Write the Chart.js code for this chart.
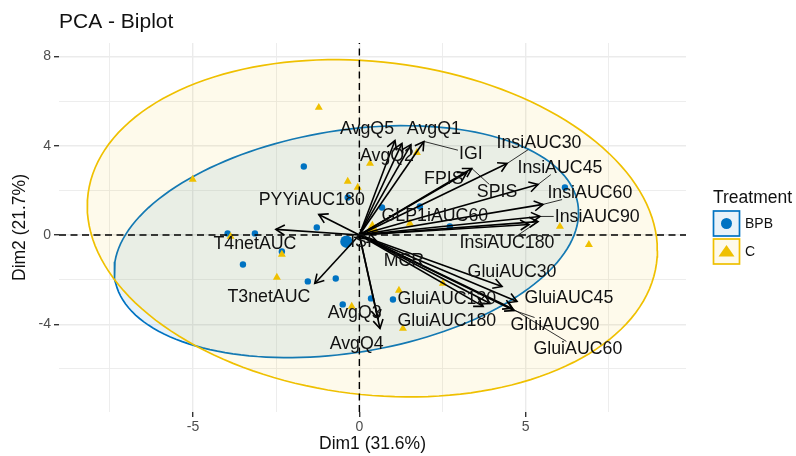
<!DOCTYPE html>
<html>
<head>
<meta charset="utf-8">
<script src="https://cdn.jsdelivr.net/npm/chart.js@4.4.0/dist/chart.umd.min.js"></script>
<style>
  html, body { margin: 0; padding: 0; background: #ffffff; }
  #wrap { width: 796px; height: 456px; }
</style>
</head>
<body>
<div id="wrap"><canvas id="biplot" width="796" height="456"></canvas></div>
<script>
// ---- individuals (PC scores) ----
const groups = ['BPB', 'C'];
const bpbX = [-1.67, -0.35, 0.68, -1.28, -3.96, -3.14, -2.33, -3.50, -1.55, -0.71, -0.50, 0.35, 1.01, 1.82, 2.72, 6.18];
const bpbY = [3.07, 1.68, 1.23, 0.34, 0.07, 0.07, -0.74, -1.32, -2.08, -1.95, -3.11, -2.84, -2.89, 1.28, 0.38, 2.13];
const cX = [-1.22, -5.01, 0.32, -0.35, -0.05, -3.87, -2.33, -2.48, -0.23, 1.19, 1.52, 6.03, 6.90, 2.51, 1.31, 1.73];
const cY = [5.71, 2.49, 3.20, 2.40, 2.13, -0.07, -0.87, -1.90, -3.20, -2.48, 0.52, 0.38, -0.43, -2.17, -4.19, 3.69];
const groupMeanX = [-0.39, 0.39];
const groupMeanY = [-0.30, 0.30];

// ---- concentration ellipses: x = cx + ax*cos t, y = cy + ay*cos t + by*sin t ----
const ellipseAx = [6.98, 8.57];
const ellipseAy = [1.30, -0.99];
const ellipseBy = [5.03, 7.49];

// ---- variables (loadings) ----
const varNames = ['AvgQ5', 'AvgQ2', 'AvgQ1', 'IGI', 'FPIS', 'SPIS', 'InsiAUC30', 'InsiAUC45', 'InsiAUC60',
  'InsiAUC90', 'InsiAUC180', 'GLP1iAUC60', 'PYYiAUC180', 'T4netAUC', 'T3netAUC', 'AvgQ3', 'AvgQ4', 'MCR', 'ISI',
  'GluiAUC30', 'GluiAUC45', 'GluiAUC90', 'GluiAUC60', 'GluiAUC120', 'GluiAUC180'];
const varX = [1.07, 1.28, 1.55, 1.94, 3.23, 3.38, 4.44, 5.37, 5.52, 5.43, 5.37, 5.10, -1.22, -2.51, -1.34, 0.56, 0.62, 0.50, 0.14,
  4.29, 4.74, 4.65, 4.59, 3.72, 3.93];
const varY = [4.23, 4.10, 4.05, 4.19, 2.80, 2.98, 3.20, 2.26, 1.37, 0.83, 0.60, 0.47, 0.92, 0.25, -2.17, -3.74, -4.19, -0.25, -0.16,
  -2.31, -2.98, -3.38, -3.29, -3.20, -3.07];
// repelled label anchors
const labelX = [0.23, 0.83, 2.24, 3.35, 2.54, 4.14, 5.40, 6.03, 6.93, 7.15, 4.44, 2.27, -1.43, -3.14, -2.72, -0.14, -0.08, 1.34, 0.05,
  4.59, 6.30, 5.88, 6.57, 2.63, 2.63];
const labelY = [4.77, 3.60, 4.77, 3.65, 2.53, 1.95, 4.14, 3.02, 1.90, 0.83, -0.34, 0.87, 1.59, -0.38, -2.75, -3.47, -4.86, -1.14, -0.29,
  -1.63, -2.80, -4.01, -5.08, -2.84, -3.83];
const leaderNames = ['IGI', 'SPIS', 'InsiAUC30', 'InsiAUC45', 'InsiAUC60', 'InsiAUC90', 'InsiAUC180', 'GluiAUC90', 'GluiAUC60'];

// ---- axes ----
const xRange = [-9.03, 9.82];
const yRange = [-7.93, 8.60];
const xTicks = [-7.5, -5, -2.5, 0, 2.5, 5, 7.5];
const xTickLabels = ['', '-5', '', '0', '', '5', ''];
const yTicks = [-6, -4, -2, 0, 2, 4, 6, 8];
const yTickLabels = ['', '-4', '', '0', '', '4', '', '8'];

const BLUE = '#0073C2';
const GOLD = '#EFC000';
const FONT = "'Liberation Sans', Arial, Helvetica, sans-serif";
Chart.defaults.font.family = FONT;

function ellipsePoints(g) {
  const pts = [];
  const n = 160;
  for (let i = 0; i <= n; i++) {
    const t = (i / n) * Math.PI * 2;
    pts.push({
      x: groupMeanX[g] + ellipseAx[g] * Math.cos(t),
      y: groupMeanY[g] + ellipseAy[g] * Math.cos(t) + ellipseBy[g] * Math.sin(t)
    });
  }
  return pts;
}

const datasets = [];
// ellipses (BPB first, C over it)
[0, 1].forEach(g => {
  const col = g === 0 ? BLUE : GOLD;
  datasets.push({
    data: ellipsePoints(g),
    showLine: true,
    fill: 'shape',
    backgroundColor: g === 0 ? 'rgba(0,115,194,0.09)' : 'rgba(239,192,0,0.08)',
    borderColor: col,
    borderWidth: 1.7,
    pointRadius: 0,
    tension: 0,
    order: 30 - g
  });
});
// individuals
datasets.push({
  data: bpbX.map((x, i) => ({ x, y: bpbY[i] })),
  pointStyle: 'circle', pointRadius: 3.2, backgroundColor: BLUE, borderWidth: 0, order: 20
});
datasets.push({
  data: cX.map((x, i) => ({ x, y: cY[i] })),
  pointStyle: 'triangle', pointRadius: 4.6, backgroundColor: GOLD, borderWidth: 0, order: 19
});
// group means
datasets.push({
  data: [{ x: groupMeanX[0], y: groupMeanY[0] }],
  pointStyle: 'circle', pointRadius: 6.2, backgroundColor: BLUE, borderWidth: 0, order: 18
});
datasets.push({
  data: [{ x: groupMeanX[1], y: groupMeanY[1] }],
  pointStyle: 'triangle', pointRadius: 7.5, backgroundColor: GOLD, borderWidth: 0, order: 18
});
// dashed reference lines through the origin
const dashStyle = { showLine: true, borderColor: '#000', borderWidth: 1.4, borderDash: [7, 4.5], pointRadius: 0, order: 10 };
datasets.push(Object.assign({ data: [{ x: xRange[0], y: 0 }, { x: xRange[1], y: 0 }] }, dashStyle));
datasets.push(Object.assign({ data: [{ x: 0, y: yRange[0] }, { x: 0, y: yRange[1] }] }, dashStyle));
// variable arrows
varNames.forEach((name, i) => {
  datasets.push({
    label: name,
    data: [{ x: 0, y: 0 }, { x: varX[i], y: varY[i] }],
    showLine: true, borderColor: '#000', borderWidth: 1.6, pointRadius: 0, order: 1
  });
});

const biplotDecor = {
  id: 'biplotDecor',
  afterDatasetsDraw(chart) {
    const ctx = chart.ctx;
    const xs = chart.scales.x, ys = chart.scales.y;
    const area = chart.chartArea;
    ctx.save();
    ctx.beginPath();
    ctx.rect(area.left, area.top, area.right - area.left, area.bottom - area.top);
    ctx.clip();
    // arrow heads
    ctx.strokeStyle = '#000';
    ctx.lineWidth = 1.6;
    ctx.lineCap = 'butt';
    const ox = xs.getPixelForValue(0), oy = ys.getPixelForValue(0);
    varNames.forEach((name, i) => {
      const px = xs.getPixelForValue(varX[i]), py = ys.getPixelForValue(varY[i]);
      const a = Math.atan2(py - oy, px - ox);
      const len = 10, spread = Math.PI / 6;
      ctx.beginPath();
      ctx.moveTo(px + len * Math.cos(a + Math.PI - spread), py + len * Math.sin(a + Math.PI - spread));
      ctx.lineTo(px, py);
      ctx.lineTo(px + len * Math.cos(a + Math.PI + spread), py + len * Math.sin(a + Math.PI + spread));
      ctx.stroke();
    });
    // labels and leader segments
    ctx.font = '17.8px ' + FONT;
    ctx.textAlign = 'center';
    ctx.textBaseline = 'middle';
    ctx.lineWidth = 0.8;
    varNames.forEach((name, i) => {
      const cx = xs.getPixelForValue(labelX[i]), cy = ys.getPixelForValue(labelY[i]);
      if (leaderNames.includes(name)) {
        const px = xs.getPixelForValue(varX[i]), py = ys.getPixelForValue(varY[i]);
        const hw = ctx.measureText(name).width / 2 + 1, hh = 7;
        const dx = cx - px, dy = cy - py;
        const k = Math.min(Math.abs(dx) > 0 ? hw / Math.abs(dx) : Infinity, Math.abs(dy) > 0 ? hh / Math.abs(dy) : Infinity);
        if (k < 1) {
          ctx.beginPath();
          ctx.moveTo(px, py);
          ctx.lineTo(px + dx * (1 - k), py + dy * (1 - k));
          ctx.stroke();
        }
      }
      ctx.fillStyle = '#111';
      ctx.fillText(name, cx, cy + 1);
    });
    ctx.restore();

    // title
    ctx.save();
    ctx.fillStyle = '#111';
    ctx.font = '21px ' + FONT;
    ctx.textAlign = 'left';
    ctx.textBaseline = 'alphabetic';
    ctx.fillText('PCA - Biplot', 59, 28);

    // legend
    ctx.font = '17.5px ' + FONT;
    ctx.textBaseline = 'middle';
    ctx.fillText('Treatment', 713, 198);
    const keys = [
      { fill: 'rgba(0,115,194,0.09)', stroke: BLUE, y: 211 },
      { fill: 'rgba(239,192,0,0.08)', stroke: GOLD, y: 239 }
    ];
    keys.forEach((k, g) => {
      ctx.fillStyle = k.fill;
      ctx.fillRect(713.5, k.y, 26, 25);
      ctx.strokeStyle = k.stroke;
      ctx.lineWidth = 1.7;
      ctx.strokeRect(713.5, k.y, 26, 25);
      const mx = 726.5, my = k.y + 12.5;
      ctx.fillStyle = k.stroke;
      ctx.beginPath();
      if (g === 0) {
        ctx.arc(mx, my, 5.5, 0, Math.PI * 2);
      } else {
        ctx.moveTo(mx, my - 6.5);
        ctx.lineTo(mx + 8, my + 5);
        ctx.lineTo(mx - 8, my + 5);
        ctx.closePath();
      }
      ctx.fill();
      ctx.fillStyle = '#111';
      ctx.font = '14px ' + FONT;
      ctx.fillText(groups[g], 745, my + 0.5);
    });
    ctx.restore();
  }
};

function gridFor(labelsArr) {
  return {
    color: '#ebebeb',
    lineWidth: c => (labelsArr[c.index] ? 1.4 : 0.9),
    drawTicks: true,
    tickLength: 5,
    tickColor: c => (labelsArr[c.index] ? '#333333' : 'rgba(0,0,0,0)'),
    tickWidth: 1.4
  };
}

new Chart(document.getElementById('biplot'), {
  type: 'scatter',
  data: { datasets },
  options: {
    responsive: false,
    animation: false,
    devicePixelRatio: 1,
    layout: { padding: { top: 43, right: 110, bottom: 0, left: 0 } },
    plugins: { legend: { display: false }, tooltip: { enabled: false }, title: { display: false } },
    scales: {
      x: {
        type: 'linear', min: xRange[0], max: xRange[1],
        afterBuildTicks: s => { s.ticks = xTicks.map(v => ({ value: v })); },
        afterFit: s => { s.height = 44; },
        ticks: { callback: (v, i) => xTickLabels[i], autoSkip: false, maxRotation: 0, padding: 2,
          color: '#4d4d4d', font: { size: 14 } },
        grid: gridFor(xTickLabels),
        border: { display: false },
        title: { display: true, text: 'Dim1 (31.6%)', color: '#111', font: { size: 17.5 }, padding: { top: 0, bottom: 1 } }
      },
      y: {
        type: 'linear', min: yRange[0], max: yRange[1],
        afterBuildTicks: s => { s.ticks = yTicks.map(v => ({ value: v })); },
        afterFit: s => { s.width = 59; },
        ticks: { callback: (v, i) => yTickLabels[i], autoSkip: false, padding: 3,
          color: '#4d4d4d', font: { size: 14 } },
        grid: gridFor(yTickLabels),
        border: { display: false },
        title: { display: true, text: 'Dim2 (21.7%)', color: '#111', font: { size: 17.5 }, padding: { top: 10, bottom: 0 } }
      }
    }
  },
  plugins: [biplotDecor]
});
</script>
</body>
</html>
